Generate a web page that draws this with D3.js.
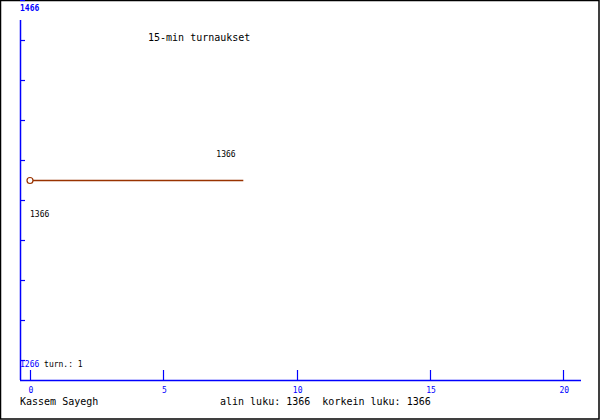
<!DOCTYPE html>
<html>
<head>
<meta charset="utf-8">
<script src="https://cdn.jsdelivr.net/npm/d3@7"></script>
<style>
  body { margin: 0; background: #fff; }
  svg { display: block; }
  text { font-family: "DejaVu Sans Mono", monospace; }
</style>
</head>
<body>
<svg width="600" height="420"></svg>
<script>
// one 15-minute game series
var games = [0, 8];
var ratings = [1366, 1366];
var xTicks = [0, 5, 10, 15, 20];
var yTicks = [1276, 1296, 1316, 1336, 1356, 1376, 1396, 1416, 1436, 1456];
var minRating = 1266, maxRating = 1466;
var gameCount = 1;

var svg = d3.select("svg"),
    width = 600,
    height = 420;

var blue = "#0000ff",
    lineColor = "#993300";

var x = d3.scaleLinear().domain([0, 20]).range([30, 563.3]);
var y = d3.scaleLinear().domain([minRating, maxRating]).range([380, -20]);

// frame
svg.append("rect")
    .attr("x", 0.5).attr("y", 0.5)
    .attr("width", width - 1.5).attr("height", height - 1.5)
    .attr("fill", "#fff")
    .attr("stroke", "#000")
    .attr("stroke-width", 1.5);

// axes lines
svg.append("line")
    .attr("x1", 20.5).attr("x2", 20.5)
    .attr("y1", 20).attr("y2", 380)
    .attr("stroke", blue).attr("stroke-width", 1.5);
svg.append("line")
    .attr("x1", 20).attr("x2", 581)
    .attr("y1", 380.5).attr("y2", 380.5)
    .attr("stroke", blue).attr("stroke-width", 1.5);

// y ticks
svg.append("g")
    .selectAll("line")
    .data(yTicks)
    .enter().append("line")
    .attr("x1", 20).attr("x2", 25)
    .attr("y1", function (d) { return Math.round(y(d)) + 0.5; })
    .attr("y2", function (d) { return Math.round(y(d)) + 0.5; })
    .attr("stroke", blue).attr("stroke-width", 1.2);

// x ticks
var xt = svg.append("g")
    .selectAll("g")
    .data(xTicks)
    .enter().append("g");
xt.append("line")
    .attr("x1", function (d) { return Math.round(x(d)) + 0.5; })
    .attr("x2", function (d) { return Math.round(x(d)) + 0.5; })
    .attr("y1", 370).attr("y2", 380)
    .attr("stroke", blue).attr("stroke-width", 1.2);
xt.append("text")
    .attr("x", function (d) { return x(d) + 1; })
    .attr("y", 393)
    .attr("text-anchor", "middle")
    .attr("font-size", 8)
    .attr("fill", blue)
    .text(function (d) { return d; });

// min / max labels
svg.append("text")
    .attr("x", 20).attr("y", 11)
    .attr("font-size", 8).attr("font-weight", "bold")
    .attr("fill", blue)
    .text(maxRating);
var bottom = svg.append("text")
    .attr("x", 20).attr("y", 367)
    .attr("font-size", 8);
bottom.append("tspan").attr("fill", blue).text(minRating);
bottom.append("tspan").attr("fill", "#000").text(" turn.: " + gameCount);

// title
svg.append("text")
    .attr("x", 148).attr("y", 41)
    .attr("font-size", 10)
    .text("15-min turnaukset");

// series
var pts = games.map(function (g, i) { return [g, ratings[i]]; });
svg.append("path")
    .datum(pts)
    .attr("fill", "none")
    .attr("stroke", lineColor)
    .attr("stroke-width", 1.5)
    .attr("d", d3.line()
        .x(function (d) { return x(d[0]); })
        .y(function (d) { return Math.round(y(d[1])) + 0.5; }));

svg.append("circle")
    .attr("cx", x(games[0]))
    .attr("cy", Math.round(y(ratings[0])) + 0.5)
    .attr("r", 3)
    .attr("fill", "#fff")
    .attr("stroke", lineColor)
    .attr("stroke-width", 1.2);

// value labels: last above, first below
svg.append("text")
    .attr("x", x(games[1]) - 27).attr("y", y(ratings[1]) - 23)
    .attr("font-size", 8)
    .text(ratings[1]);
svg.append("text")
    .attr("x", x(games[0])).attr("y", y(ratings[0]) + 37)
    .attr("font-size", 8)
    .text(ratings[0]);

// footer
svg.append("text")
    .attr("x", 20).attr("y", 405)
    .attr("font-size", 10)
    .text("Kassem Sayegh");
svg.append("text")
    .attr("x", 220).attr("y", 405)
    .attr("font-size", 10)
    .attr("xml:space", "preserve")
    .style("white-space", "pre")
    .text("alin luku: " + d3.min(ratings) + "  korkein luku: " + d3.max(ratings));
</script>
</body>
</html>
